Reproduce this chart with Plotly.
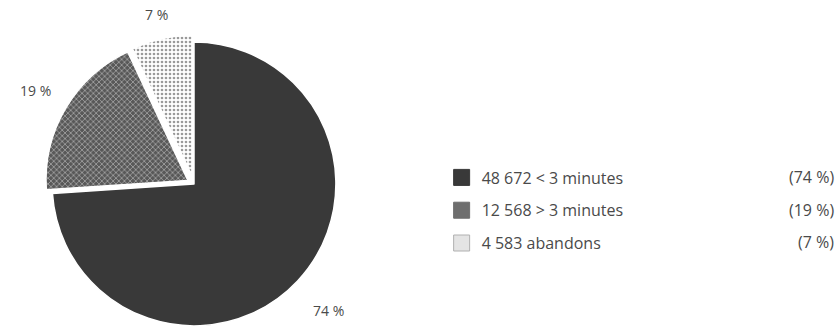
import math
import plotly.graph_objects as go

# ---- data ----
labels = ["48 672 < 3 minutes", "12 568 > 3 minutes", "4 583 abandons"]
counts = [48672, 12568, 4583]
percents = [74, 19, 7]

# ---- styles ----
slice_colors = ["#393939", "#585858", "#ffffff"]
pattern_shapes = ["", "x", "."]
pattern_fg = ["#393939", "#a8a8a8", "#9a9a9a"]
legend_colors = ["#393939", "#6e6e6e", "#e4e4e4"]
label_dist = [1.3, 1.3, 1.22]
text_color = "#4a4a4a"
font_family = "Open Sans, Liberation Sans, sans-serif"

W, H = 838, 333
pull = [0, 0.05, 0.05]
dom_x = [0.0537, 0.4093]
dom_y = [0.0, 0.895]

fig = go.Figure()
fig.add_trace(go.Pie(
    labels=labels, values=counts, sort=False, direction="clockwise", rotation=0,
    pull=pull, textinfo="none", showlegend=False, hoverinfo="label+percent",
    domain=dict(x=dom_x, y=dom_y),
    marker=dict(colors=slice_colors,
                line=dict(color="#ffffff", width=1.5),
                pattern=dict(shape=pattern_shapes, fgcolor=pattern_fg,
                             bgcolor=slice_colors, size=4, solidity=0.35,
                             fillmode="replace")),
))

# legend entries via dummy traces (spacing control)
for i, (lab, col) in enumerate(zip(labels, legend_colors)):
    fig.add_trace(go.Scatter(
        x=[None], y=[None], mode="markers", name=lab, legendgroup=f"g{i}",
        marker=dict(symbol="square", size=20, color=col,
                    line=dict(color="#b0b0b0" if i == 2 else col, width=1)),
    ))

# percentage labels around the pie, positioned along slice bisectors
box = min((dom_x[1] - dom_x[0]) * W, (dom_y[1] - dom_y[0]) * H)
r = box / (2 + 2 * max(pull))
cx = (dom_x[0] + dom_x[1]) / 2
cy = (dom_y[0] + dom_y[1]) / 2
total = sum(counts)
acc = 0
for v, p, f in zip(counts, percents, label_dist):
    mid = (acc + v / 2) / total * 2 * math.pi
    acc += v
    d = r * f
    fig.add_annotation(x=cx + d * math.sin(mid) / W, y=cy + d * math.cos(mid) / H,
                       xref="paper", yref="paper", xanchor="center", yanchor="middle",
                       text=f"{p} %", showarrow=False,
                       font=dict(size=14, color=text_color, family=font_family))

# percentage column in legend
row_y = [0.468, 0.369, 0.273]
for p, yy in zip(percents, row_y):
    fig.add_annotation(x=0.998, y=yy, xref="paper", yref="paper",
                       xanchor="right", yanchor="middle",
                       text=f"({p} %)", showarrow=False,
                       font=dict(size=16, color=text_color, family=font_family))

fig.update_layout(
    width=W, height=H, margin=dict(l=0, r=0, t=0, b=0),
    paper_bgcolor="white", plot_bgcolor="white",
    xaxis=dict(visible=False), yaxis=dict(visible=False),
    legend=dict(x=0.527, y=0.518, xanchor="left", yanchor="top",
                font=dict(size=16, color=text_color, family=font_family),
                tracegroupgap=9, itemclick=False),
    font=dict(family=font_family),
)

fig.write_html("out.html")
